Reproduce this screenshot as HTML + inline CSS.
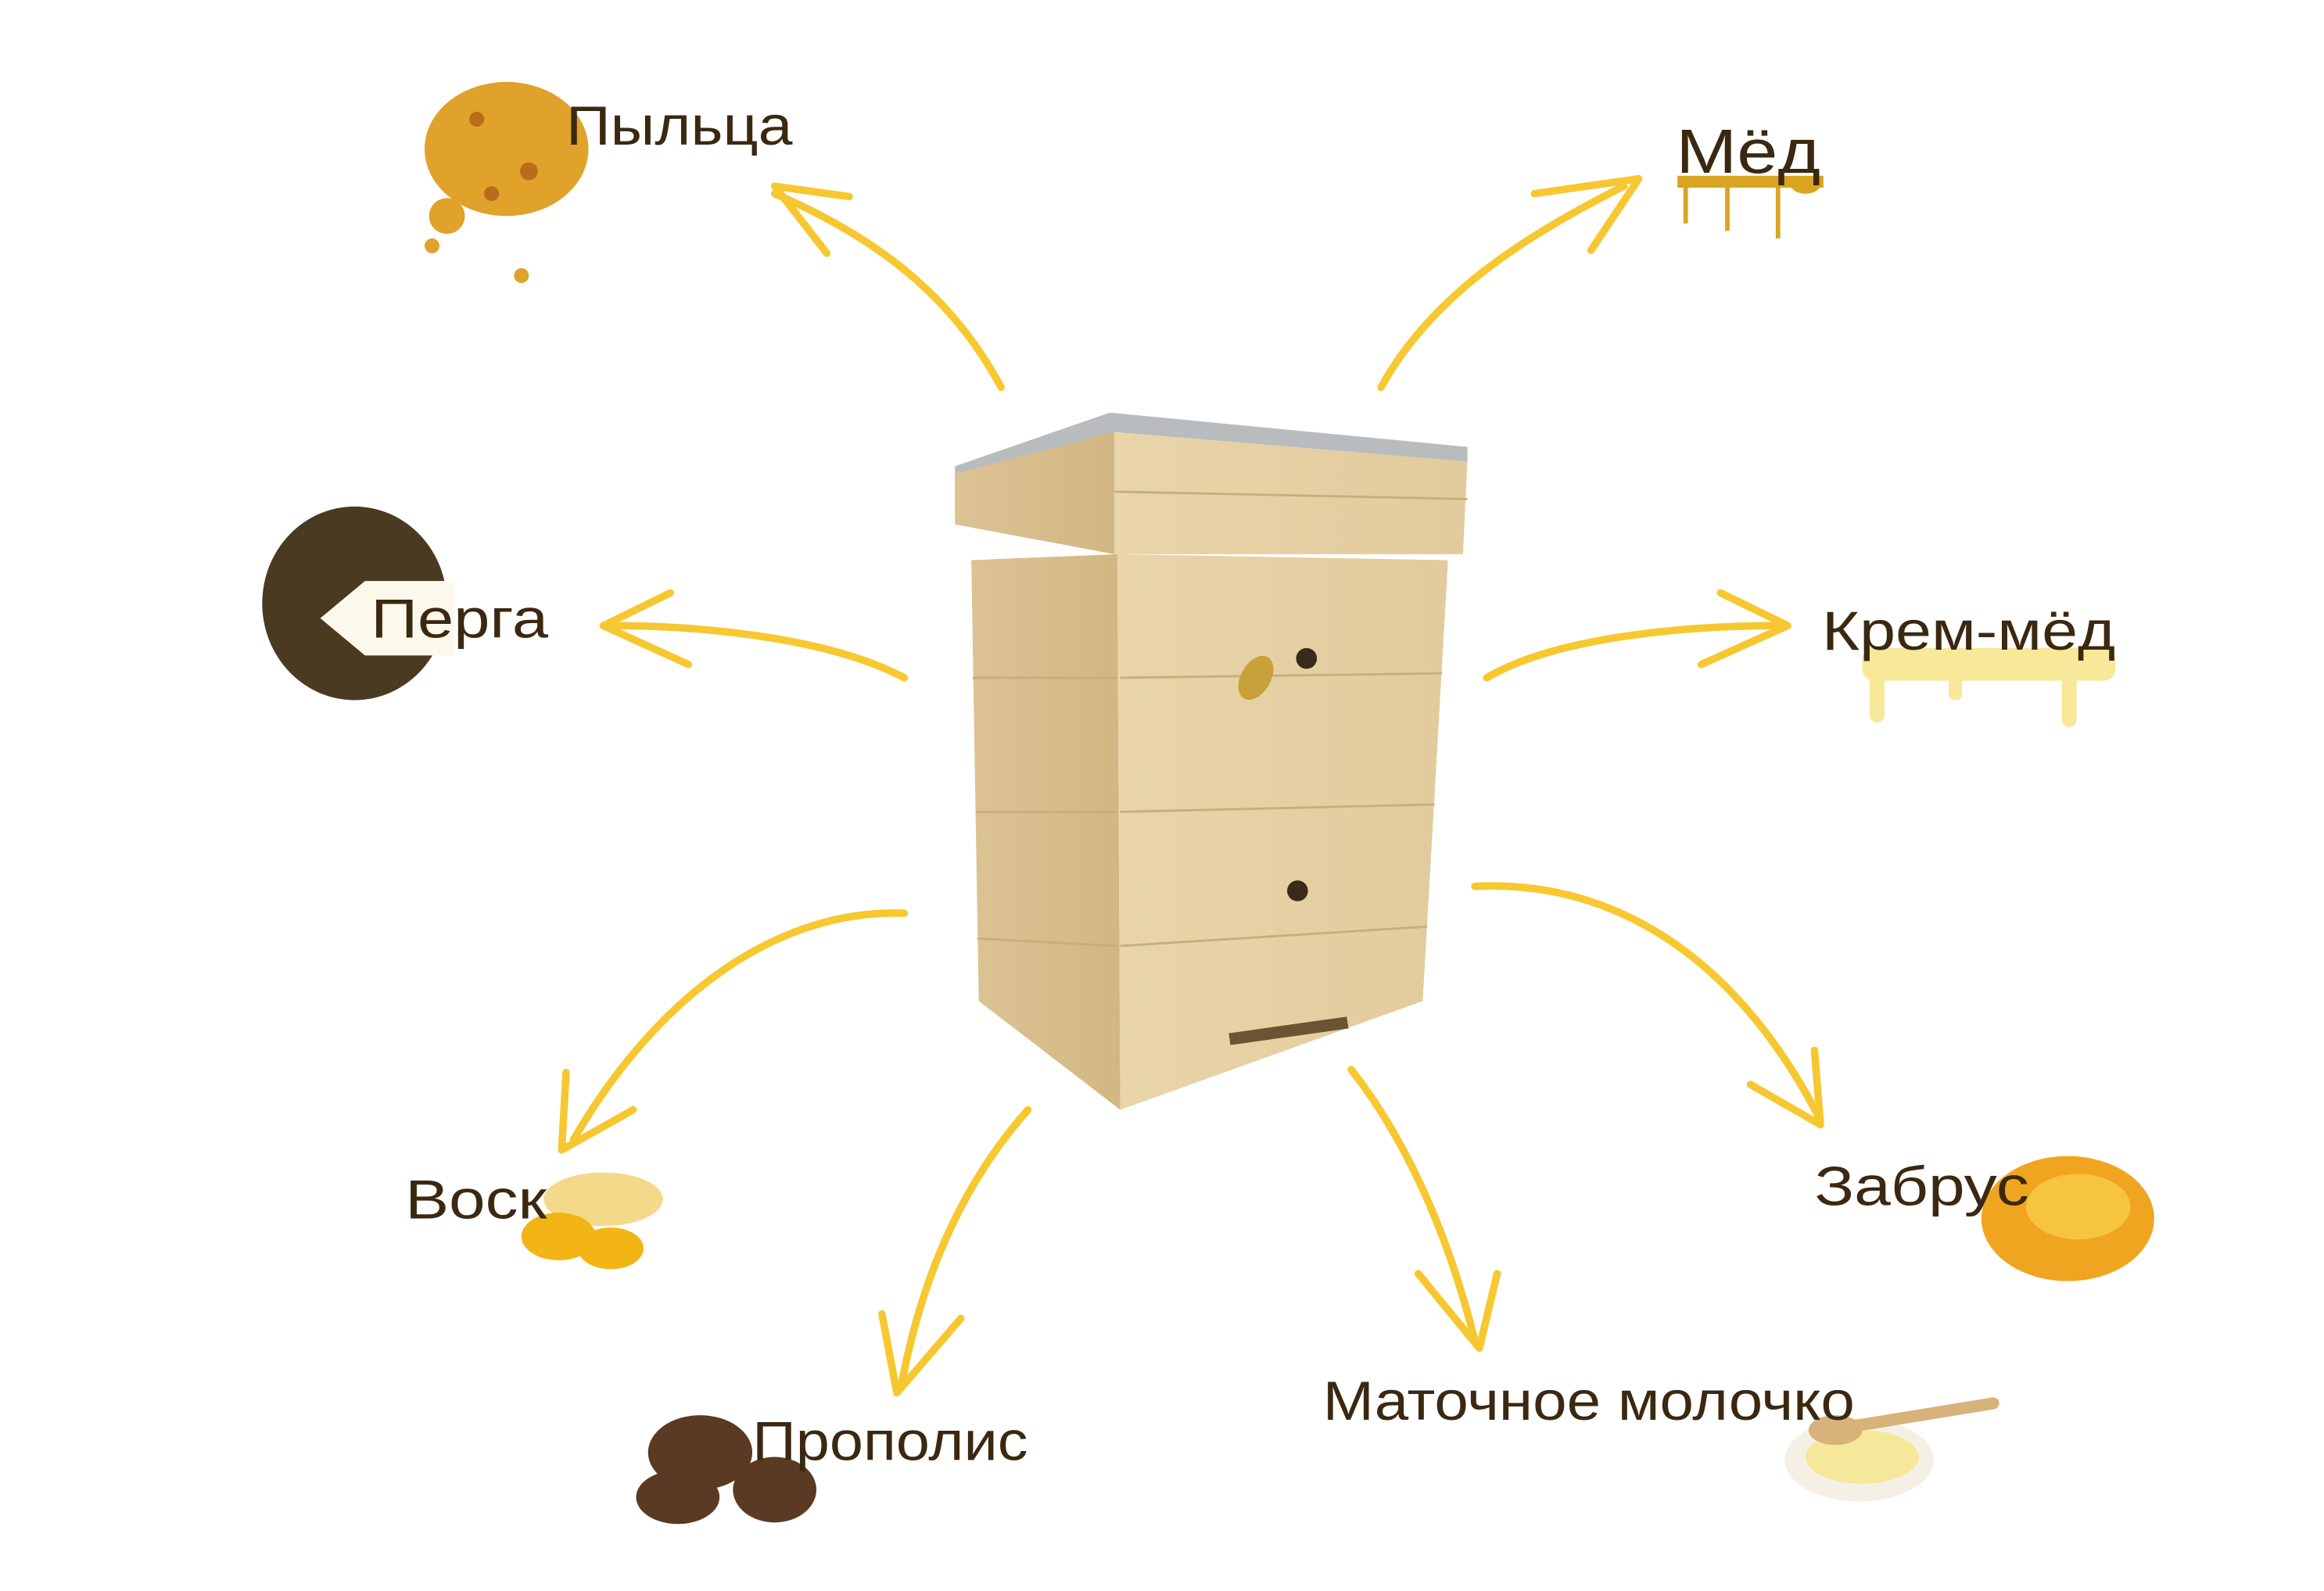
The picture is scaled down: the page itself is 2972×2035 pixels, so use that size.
<!DOCTYPE html>
<html><head><meta charset="utf-8"><style>
html,body{margin:0;padding:0;background:#fff;width:2972px;height:2035px;overflow:hidden}
svg{display:block}
text{font-family:"Liberation Sans","DejaVu Sans",sans-serif;fill:#3b2810}
</style></head><body>
<svg width="2972" height="2035" viewBox="0 0 1560 1068" preserveAspectRatio="none" xmlns="http://www.w3.org/2000/svg">
<defs>
<linearGradient id="wood" x1="0" y1="0" x2="1" y2="0"><stop offset="0" stop-color="#e9d5aa"/><stop offset="1" stop-color="#e2cb9c"/></linearGradient>
<linearGradient id="woodL" x1="0" y1="0" x2="1" y2="0"><stop offset="0" stop-color="#dcc394"/><stop offset="1" stop-color="#d2b783"/></linearGradient>
</defs>
<g fill="none" stroke="#f6c21a" stroke-width="5" stroke-linecap="round" stroke-linejoin="round" opacity="0.9">
<path d="M672 260 C640 200 590 160 520 130"/><path d="M570 132 L520 125 L555 170"/>
<path d="M927 260 C960 200 1020 160 1090 125"/><path d="M1030 130 L1100 120 L1068 168"/>
<path d="M607 455 C560 430 480 420 410 420"/><path d="M450 398 L405 420 L462 446"/>
<path d="M998 455 C1040 430 1120 420 1195 420"/><path d="M1155 398 L1200 420 L1142 446"/>
<path d="M607 613 C520 610 440 670 385 765"/><path d="M380 720 L377 772 L425 745"/>
<path d="M690 745 C650 790 620 850 605 930"/><path d="M592 882 L602 935 L645 885"/>
<path d="M907 718 C940 760 970 820 990 900"/><path d="M952 855 L993 905 L1005 855"/>
<path d="M990 595 C1090 590 1170 650 1222 752"/><path d="M1218 705 L1222 755 L1175 728"/>
</g>
<polygon points="641,313 745,277 985,300 985,310 748,290 641,320" fill="#b9bcbf"/>
<polygon points="641,318 748,290 748,372 641,352" fill="url(#woodL)"/>
<polygon points="748,290 985,310 982,372 748,372" fill="url(#wood)"/>
<polygon points="652,376 750,372 752,745 657,672" fill="url(#woodL)"/>
<polygon points="750,372 972,376 955,672 752,745" fill="url(#wood)"/>
<g stroke="#c9ad7a" stroke-width="1.5" fill="none">
<line x1="752" y1="455" x2="968" y2="452"/><line x1="752" y1="545" x2="963" y2="540"/><line x1="752" y1="635" x2="958" y2="622"/>
<line x1="653" y1="455" x2="750" y2="455"/><line x1="655" y1="545" x2="750" y2="545"/><line x1="656" y1="630" x2="750" y2="635"/>
<line x1="748" y1="330" x2="985" y2="335"/>
</g>
<circle cx="877" cy="442" r="7" fill="#3a2a1a"/><circle cx="871" cy="598" r="7" fill="#3a2a1a"/>
<rect x="825" y="688" width="80" height="8" fill="#6b5433" transform="rotate(-8 865 692)"/>
<ellipse cx="843" cy="455" rx="10" ry="16" fill="#c9a13a" transform="rotate(30 843 455)"/>
<g fill="#e0a22a"><ellipse cx="340" cy="100" rx="55" ry="45"/><circle cx="300" cy="145" r="12"/><circle cx="350" cy="185" r="5"/><circle cx="290" cy="165" r="5"/></g>
<g fill="#b96d1a"><circle cx="320" cy="80" r="5"/><circle cx="355" cy="115" r="6"/><circle cx="330" cy="130" r="5"/></g>
<ellipse cx="238" cy="405" rx="62" ry="65" fill="#4a3a22"/>
<polygon points="215,415 245,390 305,390 305,440 245,440" fill="#fdf8ec"/>
<g fill="#d9a520"><rect x="1126" y="118" width="98" height="8"/><rect x="1130" y="120" width="3" height="30"/><rect x="1158" y="120" width="3" height="35"/><rect x="1192" y="120" width="3" height="40"/><ellipse cx="1212" cy="124" rx="10" ry="6"/></g>
<g fill="#f7e89a"><rect x="1250" y="435" width="170" height="22" rx="8"/><rect x="1255" y="440" width="10" height="45" rx="5"/><rect x="1308" y="440" width="9" height="30" rx="4"/><rect x="1384" y="440" width="10" height="48" rx="5"/></g>
<ellipse cx="405" cy="805" rx="40" ry="18" fill="#f5d98a"/>
<ellipse cx="375" cy="830" rx="25" ry="16" fill="#f2b515"/><ellipse cx="410" cy="838" rx="22" ry="14" fill="#f2b515"/>
<g fill="#5a3a22"><ellipse cx="470" cy="975" rx="35" ry="25"/><ellipse cx="520" cy="1000" rx="28" ry="22"/><ellipse cx="455" cy="1005" rx="28" ry="18"/></g>
<ellipse cx="1388" cy="818" rx="58" ry="42" fill="#f0a520"/><ellipse cx="1395" cy="810" rx="35" ry="22" fill="#f7c440"/>
<ellipse cx="1248" cy="980" rx="50" ry="28" fill="#f4f0e6"/><ellipse cx="1250" cy="978" rx="38" ry="18" fill="#f6e89a"/>
<line x1="1240" y1="958" x2="1338" y2="942" stroke="#d7b27a" stroke-width="8" stroke-linecap="round"/>
<ellipse cx="1232" cy="960" rx="18" ry="10" fill="#d7b27a"/>
<text x="380" y="97" font-size="37" textLength="152" lengthAdjust="spacingAndGlyphs">Пыльца</text>
<text x="1125" y="116" font-size="42" textLength="97" lengthAdjust="spacingAndGlyphs">Мёд</text>
<text x="249" y="428" font-size="37" textLength="119" lengthAdjust="spacingAndGlyphs">Перга</text>
<text x="1223" y="436" font-size="37" textLength="197" lengthAdjust="spacingAndGlyphs">Крем-мёд</text>
<text x="272" y="818" font-size="37" textLength="95" lengthAdjust="spacingAndGlyphs">Воск</text>
<text x="505" y="980" font-size="37" textLength="185" lengthAdjust="spacingAndGlyphs">Прополис</text>
<text x="888" y="953" font-size="37" textLength="357" lengthAdjust="spacingAndGlyphs">Маточное молочко</text>
<text x="1218" y="809" font-size="37" textLength="144" lengthAdjust="spacingAndGlyphs">Забрус</text>
</svg>
</body></html>
